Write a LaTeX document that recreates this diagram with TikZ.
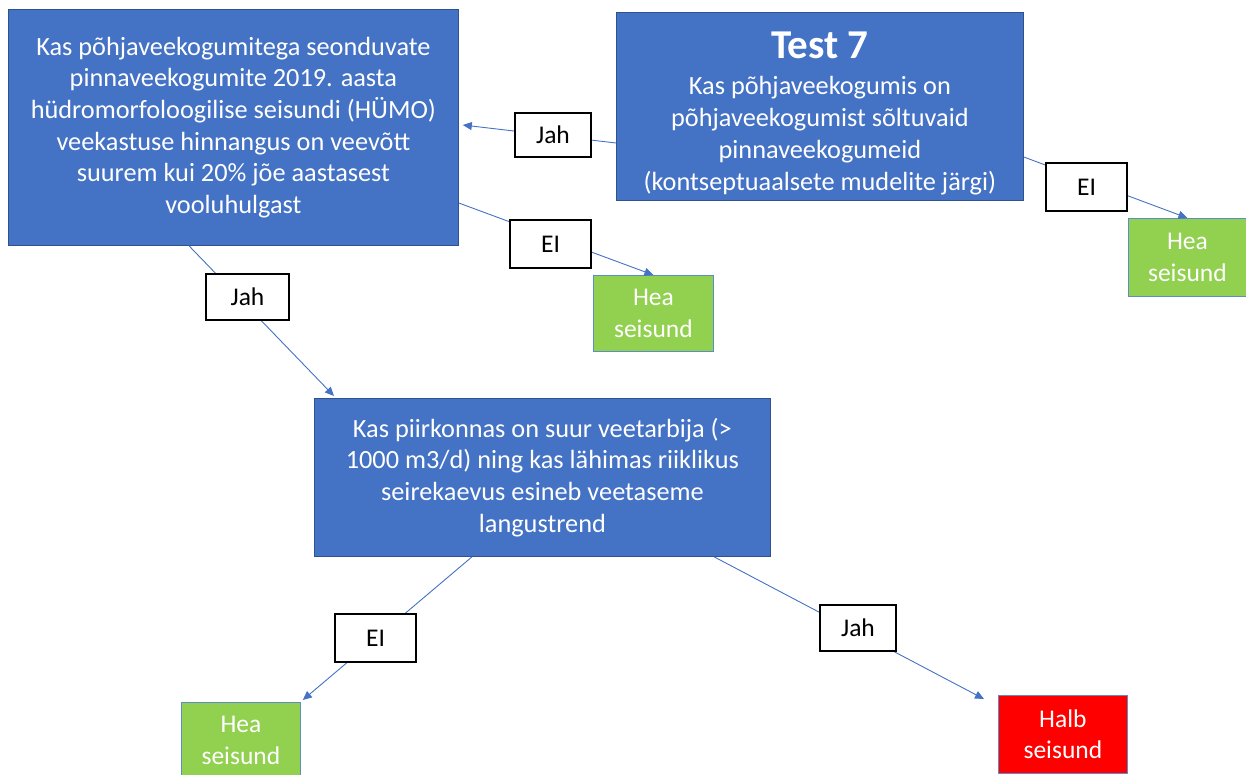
\documentclass[tikz,border=0pt]{standalone}
\usepackage{fontspec}
\setmainfont{Carlito}
\usetikzlibrary{arrows.meta,calc}
\definecolor{boxblue}{HTML}{4472C4}
\definecolor{boxedge}{HTML}{2F528F}
\definecolor{okgreen}{HTML}{92D050}
\definecolor{okedge}{HTML}{5B8DC8}
\definecolor{badred}{HTML}{FF0000}
\definecolor{linkblue}{HTML}{4472C4}
\begin{document}
\begin{tikzpicture}[x=1pt,y=-1pt,
  question/.style={draw=boxedge, line width=0.8pt, fill=boxblue, text=white,
    align=center, inner sep=0pt, anchor=north west,
    font=\fontsize{26.3}{31.7}\selectfont},
  verdict/.style={draw=okedge, line width=0.8pt, text=white, align=center,
    inner sep=0pt, anchor=north west, font=\fontsize{25.5}{31.5}\selectfont},
  good/.style={verdict, fill=okgreen},
  bad/.style={verdict, fill=badred},
  answer/.style={draw=black, line width=1.6pt, fill=white, text=black,
    inner sep=0pt, font=\fontsize{25.5}{30}\selectfont},
  link/.style={draw=linkblue, line width=0.9pt,
    -{Triangle[length=9pt,width=8pt]}}
]
\useasboundingbox (0,0) rectangle (1246,775);

% decision boxes
\node[question, minimum width=450, minimum height=236] (A) at (8,9)
  {Kas põhjaveekogumitega seonduvate\\
   pinnaveekogumite 2019. aasta\\
   hüdromorfoloogilise seisundi (HÜMO)\\
   veekastuse hinnangus on veevõtt\\
   suurem kui 20\% jõe aastasest\\
   vooluhulgast};
\node[question, minimum width=407, minimum height=188] (T7) at (616,12)
  {{\fontsize{41}{42}\selectfont\bfseries\rule{0pt}{40pt}Test 7}\\[5pt]
   Kas põhjaveekogumis on\\
   põhjaveekogumist sõltuvaid\\
   pinnaveekogumeid\\
   (kontseptuaalsete mudelite järgi)};
\node[question, minimum width=456, minimum height=158] (M) at (314,398)
  {Kas piirkonnas on suur veetarbija (>\\
   1000 m3/d) ning kas lähimas riiklikus\\
   seirekaevus esineb veetaseme\\
   langustrend};

% outcome boxes
\node[good, minimum width=118, minimum height=78] (H1) at (1128,218) {Hea\\seisund};
\node[good, minimum width=120, minimum height=76] (H2) at (593,275) {Hea\\seisund};
\node[good, minimum width=119, minimum height=76] (H3) at (181,702) {Hea\\seisund};
\node[bad, minimum width=129, minimum height=78] (HB) at (998,695) {Halb\\seisund};

% connectors
\draw[link] ($(T7.north west)+(0,131)$) -- ($(A.north east)+(4,116)$);
\draw[link] ($(T7.north east)+(0,145)$) -- (H1.north);
\draw[link] ($(A.north east)+(0,194)$) -- (H2.north);
\draw[link] ($(A.south west)+(181,0)$) -- ($(M.north west)+(20,-2)$);
\draw[link] ($(M.south west)+(158,0)$) -- ($(H3.north east)+(2,-2)$);
\draw[link] ($(M.south west)+(400,0)$) -- ($(HB.north west)+(-14,4)$);

% answer labels
\node[answer, minimum width=76, minimum height=44] (j1) at (553,135) {Jah};
\node[answer, minimum width=81, minimum height=48] (e1) at (1086.5,187) {EI};
\node[answer, minimum width=81, minimum height=48] (e2) at (550.5,244) {EI};
\node[answer, minimum width=83, minimum height=46] (j2) at (247.5,297) {Jah};
\node[answer, minimum width=81, minimum height=48] (e3) at (375.5,638) {EI};
\node[answer, minimum width=76, minimum height=46] (j3) at (858,628) {Jah};
\end{tikzpicture}
\end{document}
